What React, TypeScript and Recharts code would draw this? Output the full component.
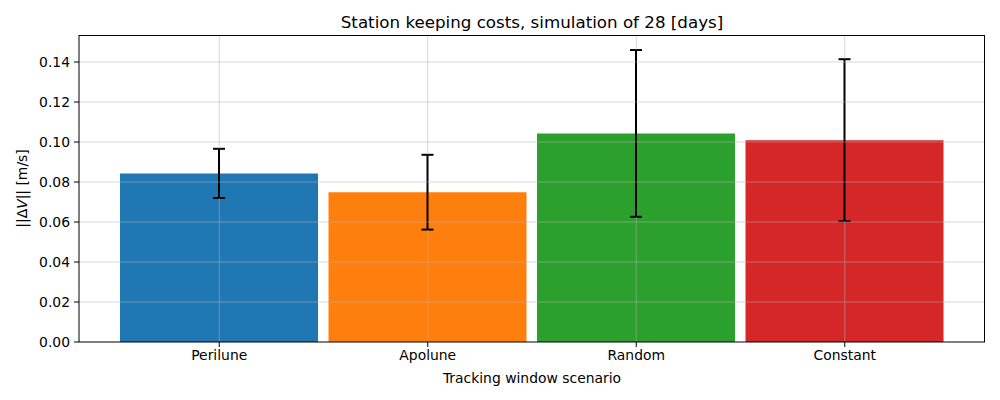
import React from 'react';
import { BarChart, Bar, Cell, XAxis, YAxis, ErrorBar, ReferenceLine } from 'recharts';

const scenarios = ['Perilune', 'Apolune', 'Random', 'Constant'];
const meanDv = [0.0843, 0.0749, 0.1043, 0.1009];
const stdDv = [0.0123, 0.0187, 0.0417, 0.0405];
const barColors = ['#1f77b4', '#ff7f0e', '#2ca02c', '#d62728'];
const yTicks = [0, 0.02, 0.04, 0.06, 0.08, 0.1, 0.12, 0.14];
const yMax = 0.1535;

const FONT = '"DejaVu Sans", sans-serif';

const chartData = scenarios.map((name, i) => ({
  name,
  dv: meanDv[i],
  err: stdDv[i],
}));

const gridStroke = '#b0b0b0';

function YLabel(props: any) {
  const { viewBox } = props;
  const cx = 22;
  const cy = viewBox.y + viewBox.height / 2;
  return (
    <text
      x={cx}
      y={cy}
      transform={`rotate(-90, ${cx}, ${cy})`}
      textAnchor="middle"
      dominantBaseline="central"
      fontSize={13.9}
      fontFamily={FONT}
      fill="#000"
    >
      ||Δ<tspan fontStyle="italic">V</tspan>|| [m/s]
    </text>
  );
}

export default function App() {
  return (
    <div style={{ position: 'absolute', left: 0, top: 0, width: 1000, height: 400, background: '#fff' }}>
      <div
        style={{
          position: 'absolute',
          left: 79,
          width: 906,
          top: 12,
          textAlign: 'center',
          fontFamily: FONT,
          fontSize: 16.7,
          color: '#000',
        }}
      >
        Station keeping costs, simulation of 28 [days]
      </div>
      <BarChart
        width={1000}
        height={400}
        data={chartData}
        margin={{ top: 35, right: 15, bottom: 0, left: 0 }}
        barSize={198}
      >
        <XAxis
          dataKey="name"
          height={58}
          padding={{ left: 36, right: 36 }}
          axisLine={{ stroke: '#000', strokeWidth: 1 }}
          tickLine={{ stroke: '#000' }}
          tickSize={5}
          tickMargin={3}
          tick={{ fill: '#000', fontSize: 13.9, fontFamily: FONT }}
          interval={0}
          label={{
            value: 'Tracking window scenario',
            position: 'insideBottom',
            offset: 17,
            fill: '#000',
            fontSize: 13.9,
            fontFamily: FONT,
          }}
        />
        <YAxis
          width={79}
          domain={[0, yMax]}
          ticks={yTicks}
          allowDataOverflow
          tickFormatter={(v: number) => v.toFixed(2)}
          axisLine={{ stroke: '#000' }}
          tickLine={{ stroke: '#000' }}
          tickSize={5}
          tickMargin={4}
          tick={{ fill: '#000', fontSize: 13.9, fontFamily: FONT }}
          label={<YLabel />}
        />
        <Bar dataKey="dv" isAnimationActive={false}>
          {chartData.map((d, i) => (
            <Cell key={d.name} fill={barColors[i]} />
          ))}
          <ErrorBar dataKey="err" width={6} strokeWidth={2} stroke="#000" direction="y" />
        </Bar>
        {yTicks.slice(1).map((t) => (
          <ReferenceLine key={`h${t}`} y={t} stroke={gridStroke} strokeOpacity={0.5} strokeWidth={1} />
        ))}
        {/* vertical grid, broken where the error bar sits so the bar stays black */}
        {scenarios.map((s, i) => (
          <ReferenceLine
            key={`vl${s}`}
            segment={[
              { x: s, y: 0 },
              { x: s, y: meanDv[i] - stdDv[i] },
            ]}
            stroke={gridStroke}
            strokeOpacity={0.5}
            strokeWidth={1}
          />
        ))}
        {scenarios.map((s, i) => (
          <ReferenceLine
            key={`vu${s}`}
            segment={[
              { x: s, y: meanDv[i] + stdDv[i] },
              { x: s, y: yMax },
            ]}
            stroke={gridStroke}
            strokeOpacity={0.5}
            strokeWidth={1}
          />
        ))}
      </BarChart>
      {/* top and right spines */}
      <div
        style={{
          position: 'absolute',
          left: 79,
          top: 35,
          width: 906,
          height: 307,
          borderTop: '1px solid #000',
          borderRight: '1px solid #000',
          boxSizing: 'border-box',
          pointerEvents: 'none',
        }}
      />
    </div>
  );
}
